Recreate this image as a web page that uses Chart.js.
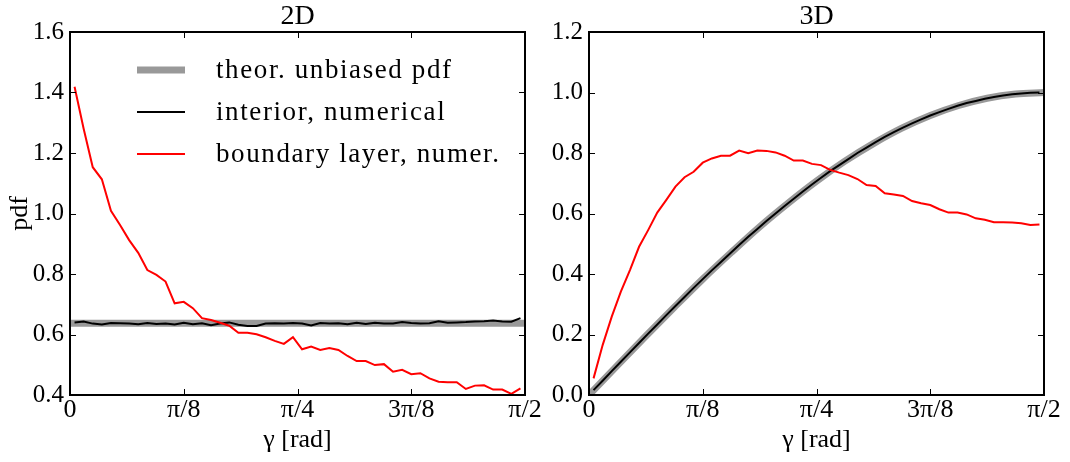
<!DOCTYPE html>
<html>
<head>
<meta charset="utf-8">
<script src="https://cdn.jsdelivr.net/npm/chart.js@4.4.1/dist/chart.umd.min.js"></script>
<style>
  html, body { margin: 0; padding: 0; background: #fff; }
  #wrap { position: relative; width: 1070px; height: 462px; overflow: hidden; }
  .box { position: absolute; top: 0; height: 462px; }
</style>
</head>
<body>
<div id="wrap">
  <div class="box" style="left:0; width:550px"><canvas id="c2d"></canvas></div>
  <div class="box" style="left:540px; width:530px"><canvas id="c3d"></canvas></div>
</div>
<script>
// histogram bins over [0, pi/2]
const nBins = 50;
const binCenters = Array.from({ length: nBins }, (_, i) => (i + 0.5) * Math.PI / 2 / nBins);

// x axis ticks
const xTickValues = [0, Math.PI / 8, Math.PI / 4, 3 * Math.PI / 8, Math.PI / 2];
const xTickLabels = ['0', 'π/8', 'π/4', '3π/8', 'π/2'];

// 2D panel
const theory2DX = [0, Math.PI / 2];
const theory2D = [0.637, 0.637];
const interior2D = [
  0.640, 0.643, 0.636, 0.633, 0.638, 0.637, 0.636, 0.634, 0.638, 0.635,
  0.636, 0.633, 0.639, 0.634, 0.637, 0.631, 0.636, 0.640, 0.632, 0.628,
  0.628, 0.636, 0.637, 0.636, 0.638, 0.636, 0.630, 0.638, 0.636, 0.637,
  0.634, 0.639, 0.635, 0.639, 0.636, 0.636, 0.641, 0.638, 0.636, 0.637,
  0.644, 0.639, 0.640, 0.641, 0.643, 0.644, 0.646, 0.643, 0.642, 0.654
];
const boundary2D = [
  1.419, 1.280, 1.153, 1.113, 1.009, 0.962, 0.912, 0.870, 0.813, 0.797,
  0.775, 0.703, 0.708, 0.687, 0.654, 0.648, 0.639, 0.629, 0.606, 0.606,
  0.601, 0.591, 0.579, 0.569, 0.591, 0.551, 0.560, 0.549, 0.555, 0.549,
  0.529, 0.512, 0.512, 0.499, 0.502, 0.477, 0.483, 0.469, 0.472, 0.455,
  0.444, 0.442, 0.442, 0.420, 0.431, 0.432, 0.418, 0.418, 0.404, 0.422
];

// 3D panel
const theory3DX = Array.from({ length: 17 }, (_, k) => k * Math.PI / 32);
const theory3D = [
  0.000, 0.098, 0.195, 0.290, 0.383, 0.471, 0.556, 0.634, 0.707,
  0.773, 0.831, 0.882, 0.924, 0.957, 0.981, 0.995, 1.000
];
const interior3D = [
  0.016, 0.047, 0.079, 0.110, 0.141, 0.172, 0.203, 0.233, 0.264, 0.294,
  0.324, 0.354, 0.383, 0.412, 0.440, 0.468, 0.496, 0.523, 0.549, 0.575,
  0.600, 0.625, 0.649, 0.673, 0.696, 0.718, 0.740, 0.760, 0.780, 0.800,
  0.818, 0.836, 0.853, 0.869, 0.884, 0.898, 0.911, 0.924, 0.935, 0.946,
  0.956, 0.965, 0.972, 0.979, 0.985, 0.990, 0.994, 0.997, 0.999, 1.000
];
const boundary3D = [
  0.055, 0.165, 0.259, 0.342, 0.413, 0.490, 0.545, 0.603, 0.645, 0.689,
  0.720, 0.738, 0.768, 0.782, 0.791, 0.791, 0.808, 0.799, 0.808, 0.807,
  0.802, 0.791, 0.775, 0.775, 0.764, 0.760, 0.744, 0.735, 0.727, 0.714,
  0.694, 0.691, 0.667, 0.663, 0.658, 0.641, 0.634, 0.628, 0.614, 0.603,
  0.603, 0.597, 0.584, 0.579, 0.571, 0.571, 0.570, 0.568, 0.562, 0.564
];

const legendLabels = ['theor. unbiased pdf', 'interior, numerical', 'boundary layer, numer.'];

const SERIF = '"Liberation Serif", "Times New Roman", serif';
Chart.defaults.font.family = SERIF;
Chart.defaults.font.size = 25;
Chart.defaults.color = '#000';

const GRAY = '#999999';

function pts(xs, ys) {
  return ys.map((v, i) => ({ x: xs[i], y: v }));
}

// black frame with inward ticks on all four sides, plus panel title
const framePlugin = {
  id: 'frame',
  afterDatasetsDraw(chart, args, opts) {
    const { ctx, chartArea: a, scales: { x, y } } = chart;
    const len = 6;
    ctx.save();
    ctx.strokeStyle = '#000';
    ctx.lineWidth = 1;
    ctx.beginPath();
    x.ticks.forEach(t => {
      const px = Math.round(x.getPixelForValue(t.value)) + 0.5;
      ctx.moveTo(px, a.bottom); ctx.lineTo(px, a.bottom - len);
      ctx.moveTo(px, a.top); ctx.lineTo(px, a.top + len);
    });
    y.ticks.forEach(t => {
      const py = Math.round(y.getPixelForValue(t.value)) + 0.5;
      ctx.moveTo(a.left, py); ctx.lineTo(a.left + len, py);
      ctx.moveTo(a.right, py); ctx.lineTo(a.right - len, py);
    });
    ctx.stroke();
    ctx.lineWidth = 2;
    ctx.strokeRect(a.left, a.top, a.width, a.height);
    // title
    ctx.fillStyle = '#000';
    ctx.font = '28px ' + SERIF;
    ctx.textAlign = 'center';
    ctx.textBaseline = 'alphabetic';
    ctx.fillText(opts.title, (a.left + a.right) / 2, 24);
    ctx.restore();
  }
};

// legend drawn inside the plot area, without box
const inLegendPlugin = {
  id: 'inLegend',
  afterDraw(chart, args, opts) {
    if (!opts.show) return;
    const { ctx } = chart;
    ctx.save();
    ctx.font = '27px ' + SERIF;
    ctx.letterSpacing = '1.6px';
    ctx.textBaseline = 'middle';
    ctx.fillStyle = '#000';
    opts.rows.forEach((yy, i) => {
      const ds = chart.data.datasets[i];
      ctx.strokeStyle = ds.borderColor;
      ctx.lineWidth = ds.borderWidth;
      ctx.beginPath();
      ctx.moveTo(opts.x0, yy);
      ctx.lineTo(opts.x1, yy);
      ctx.stroke();
      ctx.fillText(legendLabels[i], opts.tx, yy + 1);
    });
    ctx.restore();
  }
};

function makeChart(el, cfg) {
  return new Chart(el, {
    type: 'line',
    data: {
      datasets: [
        { data: cfg.theory, borderColor: GRAY, borderWidth: 7, pointRadius: 0, order: 3,
          cubicInterpolationMode: 'monotone' },
        { data: cfg.interior, borderColor: '#000', borderWidth: 2, pointRadius: 0, order: 2 },
        { data: cfg.boundary, borderColor: '#ff0000', borderWidth: 2, pointRadius: 0, order: 1 }
      ]
    },
    options: {
      responsive: true,
      maintainAspectRatio: false,
      animation: false,
      devicePixelRatio: 1,
      layout: { padding: { left: 0, right: cfg.padRight, top: 32, bottom: 0 } },
      plugins: {
        legend: { display: false },
        tooltip: { enabled: false },
        title: { display: false },
        frame: { title: cfg.title },
        inLegend: cfg.legend
      },
      scales: {
        x: {
          type: 'linear',
          min: 0,
          max: Math.PI / 2,
          afterBuildTicks: s => { s.ticks = xTickValues.map(v => ({ value: v })); },
          afterFit: s => { s.height = 67; s.paddingLeft = 0; s.paddingRight = 0; },
          ticks: {
            maxRotation: 0,
            autoSkip: false,
            padding: 0,
            font: { size: 26 },
            callback: (v, i) => xTickLabels[i]
          },
          grid: { display: false, drawTicks: false },
          border: { display: false },
          title: { display: true, text: 'γ [rad]', font: { size: 26 }, padding: { top: 0, bottom: 6.4 } }
        },
        y: {
          min: cfg.yMin,
          max: cfg.yMax,
          afterFit: s => { s.width = cfg.yWidth; s.paddingTop = 0; s.paddingBottom = 0; },
          ticks: {
            stepSize: 0.2,
            padding: 6,
            callback: v => Number(v).toFixed(1)
          },
          grid: { display: false, drawTicks: false },
          border: { display: false },
          title: { display: cfg.yTitle, text: 'pdf', font: { size: 26 }, padding: { top: 4.4, bottom: 0 } }
        }
      }
    },
    plugins: [framePlugin, inLegendPlugin]
  });
}

makeChart(document.getElementById('c2d'), {
  title: '2D',
  theory: pts(theory2DX, theory2D),
  interior: pts(binCenters, interior2D),
  boundary: pts(binCenters, boundary2D),
  yMin: 0.4, yMax: 1.6, yWidth: 70, padRight: 25, yTitle: true,
  legend: { show: true, x0: 137, x1: 185, tx: 216, rows: [70, 112, 154] }
});

makeChart(document.getElementById('c3d'), {
  title: '3D',
  theory: pts(theory3DX, theory3D),
  interior: pts(binCenters, interior3D),
  boundary: pts(binCenters, boundary3D),
  yMin: 0, yMax: 1.2, yWidth: 49, padRight: 26, yTitle: false,
  legend: { show: false }
});
</script>
</body>
</html>
